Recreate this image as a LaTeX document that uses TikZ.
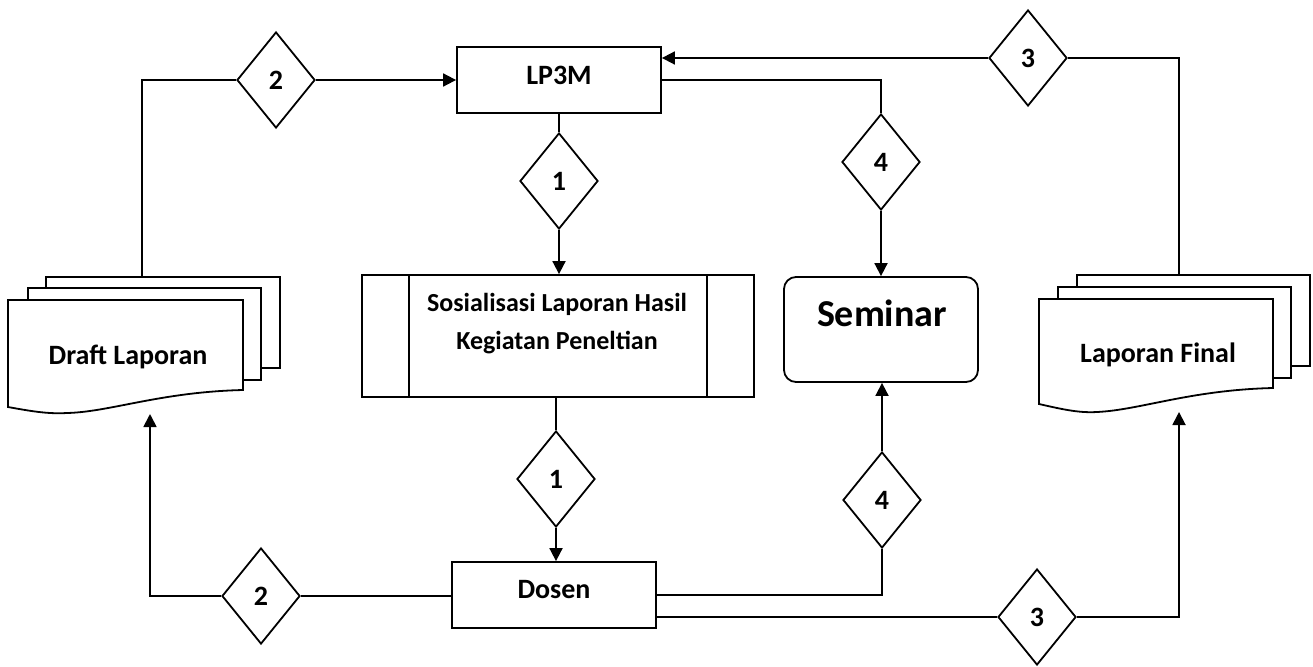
\documentclass[tikz,border=0pt]{standalone}
\usepackage{fontspec}
\setmainfont{Carlito}
\usetikzlibrary{shapes.geometric,arrows.meta}
\begin{document}
\begin{tikzpicture}[x=1pt,y=-1pt,
  txt/.style={font=\fontsize{28}{38}\selectfont\bfseries, inner sep=0pt, align=center},
  box/.style={draw, line width=1.8pt, inner sep=0pt},
  dia/.style={draw, diamond, line width=1.8pt, minimum width=78pt, minimum height=96pt, inner sep=0pt, fill=white, font=\fontsize{28}{30}\selectfont\bfseries},
  conn/.style={line width=1.8pt},
  arr/.style={conn, -{Triangle[length=13pt,width=13pt]}},
  doc/.style={draw, line width=1.8pt, fill=white, line join=miter}
]
\useasboundingbox (0,0) rectangle (1313,666);

% boxes
\node[box, minimum width=204pt, minimum height=66pt] (lp) at (559,80) {};
\node[txt] (lptxt) at (559,75) {LP3M};
\node[box, minimum width=392pt, minimum height=122pt] (sos) at (558,336) {};
\draw[conn] (409,275) -- (409,397);
\draw[conn] (707,275) -- (707,397);
\node[txt, font=\fontsize{26}{38}\selectfont\bfseries] (sostxt) at (557,324) {Sosialisasi Laporan Hasil\\Kegiatan Peneltian};
\node[box, minimum width=204pt, minimum height=66pt] (dosen) at (554,595) {};
\node[txt] (dosentxt) at (554,590) {Dosen};
\node[box, rounded corners=12pt, minimum width=194pt, minimum height=105pt] (sem) at (881,329.5) {};
\node[txt, font=\fontsize{38}{40}\selectfont\bfseries] (semtxt) at (882,313) {Seminar};

% multi documents
\begin{scope}[shift={(8,277)}]
  \draw[doc] (38,0) rectangle (272,91);
  \draw[doc] (20,11) rectangle (253,103);
  \draw[doc] (0,23) -- (235,23) -- (235,113) .. controls (152,115) and (102,135) .. (59,136)
     .. controls (42,137) and (27,135) .. (0,130) -- cycle;
\end{scope}
\node[txt] (dltxt) at (128,357) {Draft Laporan};
\begin{scope}[shift={(1039,275)}]
  \draw[doc] (38,0) rectangle (271,91);
  \draw[doc] (19,12) rectangle (252,103);
  \draw[doc] (0,24) -- (234,24) -- (234,113) .. controls (151,115) and (101,135) .. (58,137)
     .. controls (41,138) and (26,135) .. (0,129) -- cycle;
\end{scope}
\node[txt] (lftxt) at (1158,355) {Laporan Final};

\coordinate (dltop) at (142,277);
\coordinate (dlbot) at (150,414);
\coordinate (lftop) at (1179,275);
\coordinate (lfbot) at (1179,412);

% diamonds
\node[dia] (d2t) at (276,80) {2};
\node[dia] (d1t) at (559,181) {1};
\node[dia] (d4t) at (881,162) {4};
\node[dia] (d3t) at (1028,58) {3};
\node[dia] (d1b) at (556,479) {1};
\node[dia] (d2b) at (261,596) {2};
\node[dia] (d4b) at (882,500) {4};
\node[dia] (d3b) at (1037,617) {3};

% connectors
\draw[conn] (dltop) |- (d2t.west);
\draw[arr] (d2t.east) -- (d2t.east -| lp.west);
\draw[conn] (lftop) |- (d3t.east);
\draw[arr] (d3t.west) -- (d3t.west -| lp.east);
\draw[conn] (lp.south) -- (d1t.north);
\draw[arr] (d1t.south) -- (d1t.south |- sos.north);
\draw[conn] (d1b.north |- sos.south) -- (d1b.north);
\draw[arr] (d1b.south) -- (d1b.south |- dosen.north);
\draw[conn] (lp.east) -| (d4t.north);
\draw[arr] (d4t.south) -- (d4t.south |- sem.north);
\draw[conn] (d2b.east) -- (d2b.east -| dosen.west);
\draw[arr] (d2b.west) -| (dlbot);
\draw[conn] (dosen.east) -| (d4b.south);
\draw[arr] (d4b.north) -- (d4b.north |- sem.south);
\draw[conn] (d3b.west -| dosen.east) -- (d3b.west);
\draw[arr] (d3b.east) -| (lfbot);
\end{tikzpicture}
\end{document}
